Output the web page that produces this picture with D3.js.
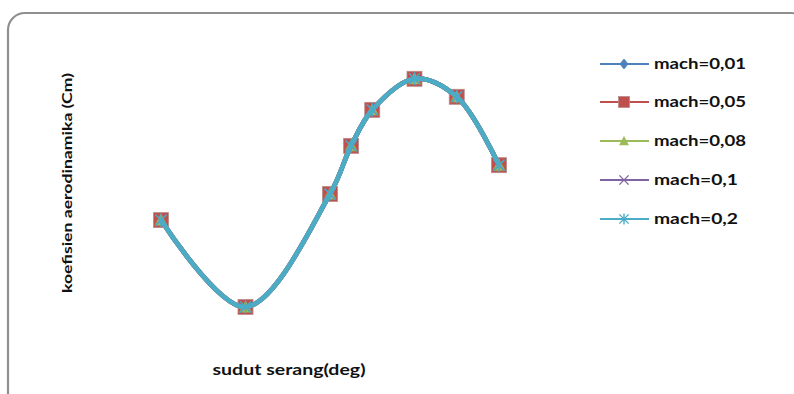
<!DOCTYPE html>
<html>
<head>
<meta charset="utf-8">
<script src="https://cdn.jsdelivr.net/npm/d3@7/dist/d3.min.js"></script>
<style>
  html, body { margin: 0; padding: 0; background: #fff; }
  svg { display: block; }
</style>
</head>
<body>
<svg id="chart" width="794" height="394"></svg>
<script>
// Angle of attack (deg)
const angles = [-8, -4, 0, 1, 2, 4, 6, 8];

// Moment coefficient Cm for each Mach number
const cmMach001 = [-0.0078, -0.0271, -0.0020, 0.0087, 0.0167, 0.0236, 0.0196, 0.0044];
const cmMach005 = [-0.0078, -0.0271, -0.0020, 0.0087, 0.0167, 0.0236, 0.0196, 0.0044];
const cmMach008 = [-0.0078, -0.0271, -0.0020, 0.0087, 0.0167, 0.0236, 0.0196, 0.0044];
const cmMach01  = [-0.0078, -0.0271, -0.0020, 0.0087, 0.0167, 0.0236, 0.0196, 0.0044];
const cmMach02  = [-0.0078, -0.0271, -0.0020, 0.0087, 0.0167, 0.0236, 0.0196, 0.0044];

const seriesNames = ["mach=0,01", "mach=0,05", "mach=0,08", "mach=0,1", "mach=0,2"];
const seriesValues = [cmMach001, cmMach005, cmMach008, cmMach01, cmMach02];
const seriesColors = ["#4F81BD", "#C0504D", "#9BBB59", "#8064A2", "#4BACC6"];
const markerTypes = ["diamond", "square", "triangle", "x", "star"];

const xTitle = "sudut serang(deg)";
const yTitle = "koefisien aerodinamika (Cm)";

const svg = d3.select("#chart");

// Rounded chart frame
svg.append("rect")
  .attr("x", 8).attr("y", 13)
  .attr("width", 800).attr("height", 400)
  .attr("rx", 17).attr("ry", 17)
  .attr("fill", "#fff")
  .attr("stroke", "#8f8f8f")
  .attr("stroke-width", 2.2);

const x = d3.scaleLinear().domain([-8, 8]).range([161, 499]);
const y = d3.scaleLinear().domain([-0.03, 0.03]).range([320, 50]);

const line = d3.line()
  .x(d => x(d[0]))
  .y(d => y(d[1]))
  .curve(d3.curveCatmullRom.alpha(0.5));

function drawMarker(g, type, color, size) {
  const s = size;
  if (type === "diamond") {
    g.append("path")
      .attr("d", `M0,${-s * 0.55}L${s * 0.45},0L0,${s * 0.55}L${-s * 0.45},0Z`)
      .attr("fill", color).attr("stroke", color).attr("stroke-width", 0.8);
  } else if (type === "square") {
    g.append("rect")
      .attr("x", -s / 2).attr("y", -s / 2)
      .attr("width", s).attr("height", s)
      .attr("fill", color).attr("stroke", "#b88a8a").attr("stroke-width", 0.8);
  } else if (type === "triangle") {
    g.append("path")
      .attr("d", `M0,${-s * 0.5}L${s * 0.5},${s * 0.42}L${-s * 0.5},${s * 0.42}Z`)
      .attr("fill", color);
  } else if (type === "x") {
    const h = s * 0.42;
    g.append("path")
      .attr("d", `M${-h},${-h}L${h},${h}M${-h},${h}L${h},${-h}`)
      .attr("stroke", color).attr("stroke-width", 1.4).attr("fill", "none");
  } else if (type === "star") {
    const h = s * 0.42;
    g.append("path")
      .attr("d", `M${-h},${-h}L${h},${h}M${-h},${h}L${h},${-h}M0,${-h * 1.2}L0,${h * 1.2}`)
      .attr("stroke", color).attr("stroke-width", 1.4).attr("fill", "none");
  }
}

const markerSizes = [11, 15, 13, 13, 13];

// Series: line then markers, in series order
seriesValues.forEach((vals, i) => {
  const pts = angles.map((a, k) => [a, vals[k]]);
  svg.append("path")
    .datum(pts)
    .attr("d", line)
    .attr("fill", "none")
    .attr("stroke", seriesColors[i])
    .attr("stroke-width", 4.6)
    .attr("stroke-linecap", "round")
    .attr("stroke-linejoin", "round");
  pts.forEach(p => {
    const g = svg.append("g").attr("transform", `translate(${x(p[0])},${y(p[1])})`);
    drawMarker(g, markerTypes[i], seriesColors[i], markerSizes[i]);
  });
});

// Axis titles
svg.append("text")
  .attr("x", 289).attr("y", 375)
  .attr("text-anchor", "middle")
  .attr("font-family", "Lato, 'Open Sans', sans-serif")
  .attr("font-weight", "bold")
  .attr("font-size", 15)
  .attr("fill", "#111")
  .attr("textLength", 153)
  .attr("lengthAdjust", "spacingAndGlyphs")
  .text(xTitle);

svg.append("text")
  .attr("transform", "translate(72,183) rotate(-90)")
  .attr("text-anchor", "middle")
  .attr("font-family", "Lato, 'Open Sans', sans-serif")
  .attr("font-weight", "bold")
  .attr("font-size", 14)
  .attr("fill", "#111")
  .attr("textLength", 220)
  .attr("lengthAdjust", "spacingAndGlyphs")
  .text(yTitle);

// Legend
const legendY = [64, 102, 141, 180, 219];
seriesNames.forEach((name, i) => {
  const ly = legendY[i];
  svg.append("line")
    .attr("x1", 600).attr("x2", 649)
    .attr("y1", ly).attr("y2", ly)
    .attr("stroke", seriesColors[i])
    .attr("stroke-width", 2.2);
  const g = svg.append("g").attr("transform", `translate(624,${ly})`);
  drawMarker(g, markerTypes[i], seriesColors[i], [9, 11, 10, 11, 11][i]);
  svg.append("text")
    .attr("x", 654).attr("y", ly + 5)
    .attr("font-family", "Lato, 'Open Sans', sans-serif")
    .attr("font-weight", "bold")
    .attr("font-size", 15)
    .attr("fill", "#111")
    .attr("textLength", name.length === 9 ? 92 : 84)
    .attr("lengthAdjust", "spacingAndGlyphs")
    .text(name);
});
</script>
</body>
</html>
